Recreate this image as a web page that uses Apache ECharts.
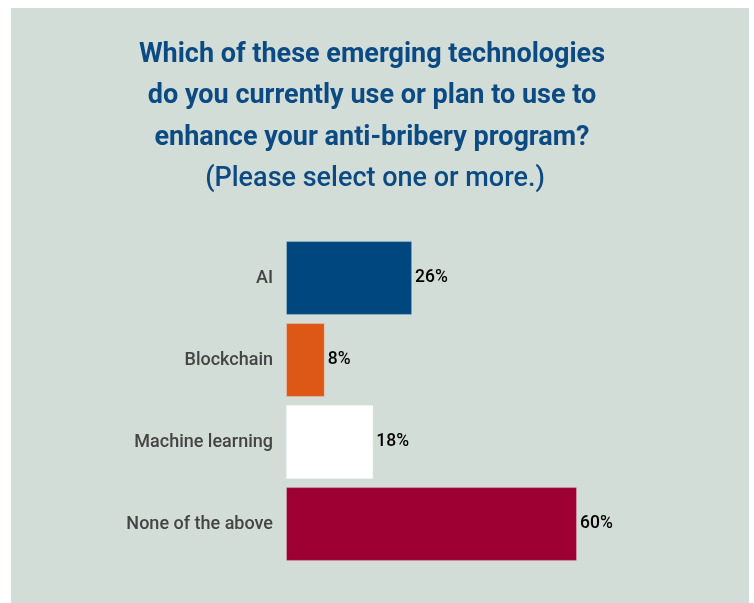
<!DOCTYPE html>
<html>
<head>
<meta charset="utf-8">
<script src="https://cdn.jsdelivr.net/npm/echarts@6/dist/echarts.min.js"></script>
<style>
  html, body { margin: 0; padding: 0; background: #ffffff; }
  #chart { width: 754px; height: 603px; }
</style>
</head>
<body>
<div id="chart"></div>
<script>
// Survey answers, top to bottom
const categories = ['AI', 'Blockchain', 'Machine learning', 'None of the above'];
const shares = [26, 8, 18, 60];
const barColors = ['#00467f', '#dd5817', '#ffffff', '#9e0033'];
const titleLines = [
  'Which of these emerging technologies',
  'do you currently use or plan to use to',
  'enhance your anti-bribery program?'
];
const subtitle = '(Please select one or more.)';

const chart = echarts.init(document.getElementById('chart'), null, { renderer: 'canvas' });

// Question heading: one centred text element per line
const headingTop = 55;
const headingStep = 41.5;
const heading = titleLines.map((line, i) => ({
  type: 'text',
  x: 372,
  y: headingTop + i * headingStep,
  style: {
    text: line,
    font: 'bold 27px Roboto',
    fill: '#0b4a82',
    align: 'center',
    verticalAlign: 'middle'
  }
}));
heading.push({
  type: 'text',
  x: 375,
  y: headingTop + 3 * headingStep,
  style: {
    text: subtitle,
    font: '500 27px Roboto',
    fill: '#0b4a82',
    align: 'center',
    verticalAlign: 'middle'
  }
});

chart.setOption({
  backgroundColor: '#ffffff',
  animation: false,
  graphic: [
    {
      type: 'rect',
      z: -10,
      shape: { x: 11, y: 8, width: 738, height: 600 },
      style: { fill: '#d3ddd8' }
    }
  ].concat(heading),
  grid: { left: 286, right: 31.5, top: 237, height: 328, containLabel: false },
  xAxis: {
    type: 'value',
    min: 0,
    max: 90,
    show: false
  },
  yAxis: {
    type: 'category',
    inverse: true,
    data: categories,
    axisLine: { show: false },
    axisTick: { show: false },
    axisLabel: {
      margin: 13,
      color: '#444444',
      fontFamily: 'Roboto',
      fontWeight: 500,
      fontSize: 18
    }
  },
  series: [{
    type: 'bar',
    barCategoryGap: '10%',
    data: shares.map((v, i) => ({
      value: v,
      itemStyle: {
        color: barColors[i],
        borderColor: 'rgba(255,255,255,0.25)',
        borderWidth: 1
      }
    })),
    label: {
      show: true,
      position: 'right',
      distance: 3,
      formatter: '{c}%',
      color: '#000000',
      fontFamily: 'Roboto',
      fontWeight: 500,
      fontSize: 17.5
    }
  }]
});
</script>
</body>
</html>
